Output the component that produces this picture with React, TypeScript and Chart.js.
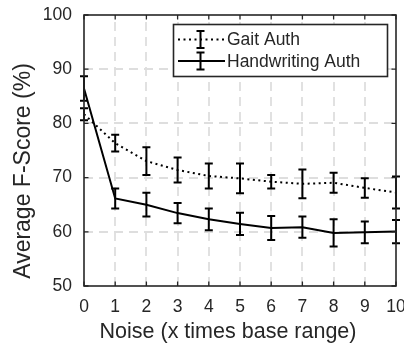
import React, { useEffect, useRef } from 'react';
import { Chart, registerables } from 'chart.js';

Chart.register(...registerables);

const noiseLevels = [0, 1, 2, 3, 4, 5, 6, 7, 8, 9, 10];
const gaitMean = [81.7, 76.35, 73.05, 71.4, 70.3, 69.85, 69.25, 68.85, 69.05, 68.1, 67.25];
const gaitErr = [1.1, 1.55, 2.55, 2.3, 2.3, 2.75, 1.25, 2.65, 1.85, 1.8, 2.95];
const handMean = [86.45, 66.15, 65.0, 63.45, 62.3, 61.45, 60.7, 60.85, 59.8, 59.9, 60.05];
const handErr = [2.25, 1.85, 2.2, 1.85, 2.0, 2.05, 2.2, 1.95, 2.5, 2.0, 2.15];

const xTicks = [0, 1, 2, 3, 4, 5, 6, 7, 8, 9, 10];
const yTicks = [50, 60, 70, 80, 90, 100];
const seriesNames = ['Gait Auth', 'Handwriting Auth'];
const xTitle = 'Noise (x times base range)';
const yTitle = 'Average F-Score (%)';

const INK = '#262626';
const FONT = '"Liberation Sans", Arial, Helvetica, sans-serif';
const DOT: number[] = [2, 3.5];

const decorPlugin = {
  id: 'matlabDecor',
  beforeDatasetsDraw(chart: any) {
    const { ctx, chartArea: a, scales } = chart;
    const x = scales.x;
    const y = scales.y;
    ctx.save();
    ctx.strokeStyle = '#dedede';
    ctx.lineWidth = 1.8;
    ctx.setLineDash([9, 6]);
    xTicks.slice(1, -1).forEach((v) => {
      const px = Math.round(x.getPixelForValue(v));
      ctx.beginPath();
      ctx.moveTo(px, a.bottom);
      ctx.lineTo(px, a.top);
      ctx.stroke();
    });
    yTicks.slice(1, -1).forEach((v) => {
      const py = Math.round(y.getPixelForValue(v));
      ctx.beginPath();
      ctx.moveTo(a.left, py);
      ctx.lineTo(a.right, py);
      ctx.stroke();
    });
    ctx.restore();
  },
  afterDatasetsDraw(chart: any) {
    const { ctx, chartArea: a, scales } = chart;
    const x = scales.x;
    const y = scales.y;
    ctx.save();
    ctx.setLineDash([]);
    // error bars
    chart.data.datasets.forEach((ds: any) => {
      const errs: number[] = ds.errors;
      ctx.strokeStyle = '#000';
      ctx.lineWidth = 2;
      ds.data.forEach((p: any, i: number) => {
        const px = x.getPixelForValue(p.x);
        const top = y.getPixelForValue(p.y + errs[i]);
        const bot = y.getPixelForValue(p.y - errs[i]);
        ctx.beginPath();
        ctx.moveTo(px, top);
        ctx.lineTo(px, bot);
        ctx.moveTo(px - 4, top);
        ctx.lineTo(px + 4, top);
        ctx.moveTo(px - 4, bot);
        ctx.lineTo(px + 4, bot);
        ctx.stroke();
      });
    });
    // box
    ctx.strokeStyle = INK;
    ctx.lineWidth = 1.6;
    ctx.strokeRect(a.left, a.top, a.right - a.left, a.bottom - a.top);
    // inward ticks
    ctx.lineWidth = 1.3;
    const tl = 4.5;
    ctx.beginPath();
    xTicks.forEach((v) => {
      const px = x.getPixelForValue(v);
      ctx.moveTo(px, a.bottom);
      ctx.lineTo(px, a.bottom - tl);
      ctx.moveTo(px, a.top);
      ctx.lineTo(px, a.top + tl);
    });
    yTicks.forEach((v) => {
      const py = y.getPixelForValue(v);
      ctx.moveTo(a.left, py);
      ctx.lineTo(a.left + tl, py);
      ctx.moveTo(a.right, py);
      ctx.lineTo(a.right - tl, py);
    });
    ctx.stroke();

    // legend
    const lx = 173.5, ly = 24.5, lw = 214, lh = 52;
    ctx.fillStyle = '#fff';
    ctx.fillRect(lx, ly, lw, lh);
    ctx.strokeStyle = INK;
    ctx.lineWidth = 1.6;
    ctx.strokeRect(lx, ly, lw, lh);
    const rows = [39.5, 61];
    chart.data.datasets.forEach((ds: any, i: number) => {
      const ry = rows[i];
      ctx.strokeStyle = '#000';
      ctx.lineWidth = 2;
      ctx.setLineDash(ds.borderDash || []);
      ctx.beginPath();
      ctx.moveTo(178, ry);
      ctx.lineTo(225, ry);
      ctx.stroke();
      ctx.setLineDash([]);
      const cx = 200.5;
      ctx.beginPath();
      ctx.moveTo(cx, ry - 8.5);
      ctx.lineTo(cx, ry + 8.5);
      ctx.moveTo(cx - 4, ry - 8.5);
      ctx.lineTo(cx + 4, ry - 8.5);
      ctx.moveTo(cx - 4, ry + 8.5);
      ctx.lineTo(cx + 4, ry + 8.5);
      ctx.stroke();
      ctx.fillStyle = INK;
      ctx.font = `17.5px ${FONT}`;
      ctx.textAlign = 'left';
      ctx.textBaseline = 'middle';
      ctx.fillText(ds.label, 227, ry + 1);
    });

    // axis titles
    ctx.fillStyle = INK;
    ctx.font = `21.5px ${FONT}`;
    ctx.textAlign = 'center';
    ctx.textBaseline = 'alphabetic';
    ctx.fillText(xTitle, 228, 338);
    ctx.font = `23px ${FONT}`;
    ctx.translate(30, 171);
    ctx.rotate(-Math.PI / 2);
    ctx.fillText(yTitle, 0, 0);
    ctx.restore();
  },
};

export default function App() {
  const ref = useRef<HTMLCanvasElement | null>(null);
  useEffect(() => {
    document.body.style.margin = '0';
    const canvas = ref.current;
    if (!canvas) return;
    const toPts = (vals: number[]) => noiseLevels.map((n, i) => ({ x: n, y: vals[i] }));
    const chart = new Chart(canvas, {
      type: 'line',
      data: {
        datasets: [
          {
            label: seriesNames[0],
            data: toPts(gaitMean),
            errors: gaitErr,
            borderColor: '#000',
            borderWidth: 2,
            borderDash: DOT,
            pointRadius: 0,
            fill: false,
            tension: 0,
            clip: false,
          } as any,
          {
            label: seriesNames[1],
            data: toPts(handMean),
            errors: handErr,
            borderColor: '#000',
            borderWidth: 2,
            pointRadius: 0,
            fill: false,
            tension: 0,
            clip: false,
          } as any,
        ],
      },
      options: {
        responsive: false,
        animation: false,
        layout: { padding: { left: 0, top: 15, right: 8, bottom: 0 } },
        plugins: { legend: { display: false }, tooltip: { enabled: false } },
        scales: {
          x: {
            type: 'linear',
            min: 0,
            max: 10,
            afterBuildTicks: (s: any) => {
              s.ticks = xTicks.map((v) => ({ value: v }));
            },
            afterFit: (s: any) => {
              s.height = 59;
              s.paddingLeft = 0;
              s.paddingRight = 0;
            },
            grid: { display: false, drawTicks: false },
            border: { display: false },
            ticks: {
              padding: 11,
              maxRotation: 0,
              autoSkip: false,
              color: INK,
              font: { family: FONT, size: 17.5 },
            },
          },
          y: {
            type: 'linear',
            min: 50,
            max: 100,
            afterBuildTicks: (s: any) => {
              s.ticks = yTicks.map((v) => ({ value: v }));
            },
            afterFit: (s: any) => {
              s.width = 84;
              s.paddingTop = 0;
              s.paddingBottom = 0;
            },
            grid: { display: false, drawTicks: false },
            border: { display: false },
            ticks: {
              padding: 12,
              autoSkip: false,
              color: INK,
              font: { family: FONT, size: 17.5 },
            },
          },
        },
      },
      plugins: [decorPlugin],
    });
    return () => chart.destroy();
  }, []);
  return <canvas ref={ref} width={404} height={345} style={{ display: 'block' }} />;
}
